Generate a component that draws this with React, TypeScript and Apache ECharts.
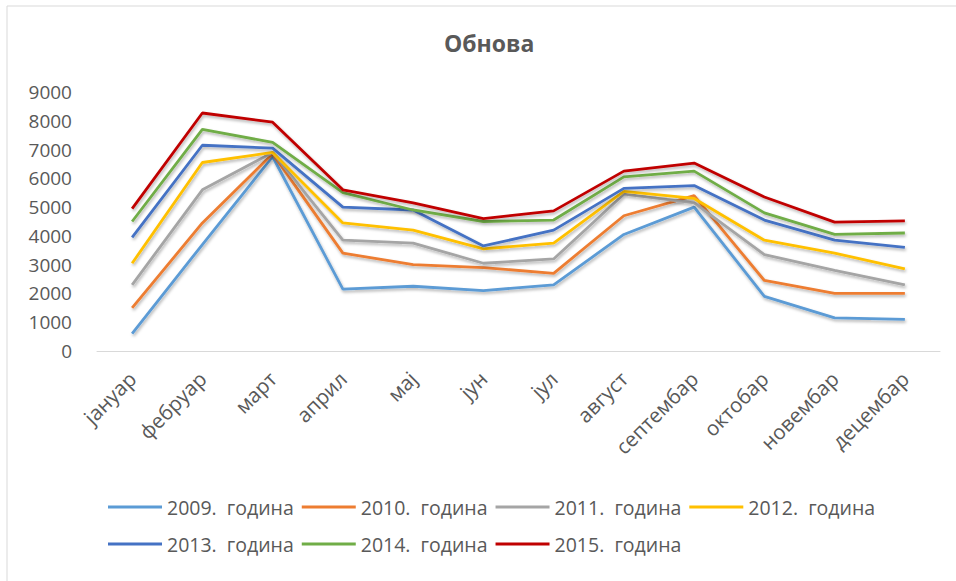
import React, { useEffect, useRef } from "react";
import * as echarts from "echarts";

const months = ["јануар", "фебруар", "март", "април", "мај", "јун", "јул", "август", "септембар", "октобар", "новембар", "децембар"];
const seriesNames = ["2009.  година", "2010.  година", "2011.  година", "2012.  година", "2013.  година", "2014.  година", "2015.  година"];
const y2009 = [600, 3700, 6750, 2150, 2250, 2100, 2300, 4050, 5000, 1900, 1150, 1100];
const y2010 = [1500, 4450, 6850, 3400, 3000, 2900, 2700, 4700, 5400, 2450, 2000, 2000];
const y2011 = [2300, 5600, 6900, 3850, 3750, 3050, 3200, 5450, 5150, 3350, 2800, 2300];
const y2012 = [3050, 6550, 6900, 4450, 4200, 3550, 3750, 5550, 5300, 3850, 3400, 2850];
const y2013 = [3950, 7150, 7050, 5000, 4900, 3650, 4200, 5650, 5750, 4550, 3850, 3600];
const y2014 = [4500, 7700, 7250, 5500, 4900, 4500, 4550, 6050, 6250, 4800, 4050, 4100];
const y2015 = [4950, 8270, 7950, 5600, 5150, 4600, 4870, 6250, 6530, 5350, 4480, 4520];
const allValues = [y2009, y2010, y2011, y2012, y2013, y2014, y2015];
const colors = ["#5B9BD5", "#ED7D31", "#A5A5A5", "#FFC000", "#4472C4", "#70AD47", "#C00000"];
const yTicks = { min: 0, max: 9000, interval: 1000 };

const FONT = "'Open Sans', 'Noto Sans', sans-serif";
const GRAY = "#595959";

export default function App() {
  const ref = useRef<HTMLDivElement>(null);
  useEffect(() => {
    if (!ref.current) return;
    const chart = echarts.init(ref.current, undefined, { renderer: "svg" });
    const legendCommon = {
      orient: "horizontal" as const,
      icon: "rect",
      itemWidth: 54,
      itemHeight: 3,
      itemGap: 8,
      textStyle: { color: GRAY, fontSize: 19.5, fontFamily: FONT, width: 130 },
    };
    chart.setOption({
      animation: false,
      backgroundColor: "#ffffff",
      color: colors,
      textStyle: { fontFamily: FONT },
      title: {
        text: "Обнова",
        left: 439,
        top: 26,
        textStyle: { color: GRAY, fontSize: 23, fontWeight: "bold", fontFamily: FONT },
      },
      graphic: [
        {
          type: "rect",
          shape: { x: 7, y: 6, width: 1000, height: 700 },
          style: { fill: "none", stroke: "#d9d9d9", lineWidth: 1 },
          silent: true,
        },
      ],
      legend: [
        { ...legendCommon, left: 103, top: 492, data: seriesNames.slice(0, 4) },
        { ...legendCommon, left: 103, top: 529, data: seriesNames.slice(4) },
      ],
      grid: { left: 97, right: 16, top: 92, bottom: 230, containLabel: false },
      xAxis: {
        type: "category",
        data: months,
        boundaryGap: true,
        axisLine: { lineStyle: { color: "#d9d9d9", width: 1 } },
        axisTick: { show: false },
        axisLabel: { rotate: 45, color: GRAY, fontSize: 20.5, fontFamily: FONT, margin: 24 },
      },
      yAxis: {
        type: "value",
        min: yTicks.min,
        max: yTicks.max,
        interval: yTicks.interval,
        axisLine: { show: false },
        axisTick: { show: false },
        splitLine: { show: false },
        axisLabel: {
          color: GRAY,
          fontSize: 19,
          fontFamily: FONT,
          margin: 25,
          formatter: (v: number) => String(v),
        },
      },
      series: seriesNames.map((name, i) => ({
        name,
        type: "line",
        data: allValues[i],
        symbol: "none",
        lineStyle: {
          width: 2.8,
          color: colors[i],
          shadowBlur: 3,
          shadowColor: "rgba(0,0,0,0.3)",
          shadowOffsetX: 1,
          shadowOffsetY: 2,
        },
        itemStyle: { color: colors[i] },
      })),
    });
    return () => chart.dispose();
  }, []);
  return <div ref={ref} style={{ position: "fixed", left: 0, top: 0, width: 956, height: 581 }} />;
}
